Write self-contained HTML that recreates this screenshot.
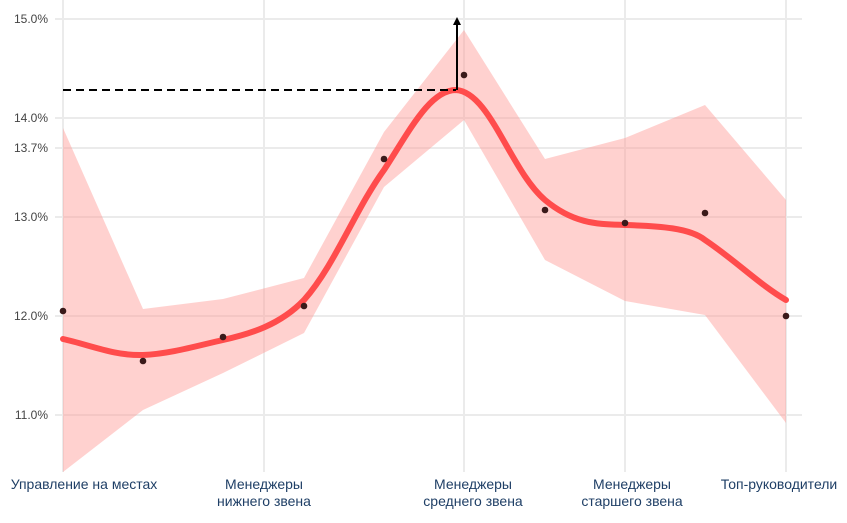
<!DOCTYPE html>
<html><head><meta charset="utf-8"><style>
html,body{margin:0;padding:0;background:#fff;}
svg{display:block;font-family:"Liberation Sans",sans-serif;}
</style></head><body>
<svg width="847" height="523" viewBox="0 0 847 523">
<g stroke="#ebebeb" stroke-width="2">
<line x1="55" y1="19" x2="802" y2="19"/>
<line x1="55" y1="118" x2="802" y2="118"/>
<line x1="55" y1="148" x2="802" y2="148"/>
<line x1="55" y1="217" x2="802" y2="217"/>
<line x1="55" y1="316" x2="802" y2="316"/>
<line x1="55" y1="415" x2="802" y2="415"/>
<line x1="63" y1="0" x2="63" y2="472"/>
<line x1="264" y1="0" x2="264" y2="472"/>
<line x1="464" y1="0" x2="464" y2="472"/>
<line x1="625" y1="0" x2="625" y2="472"/>
<line x1="786" y1="0" x2="786" y2="472"/>
</g>
<g font-size="12" fill="#444" text-anchor="end">
<text x="48" y="23">15.0%</text>
<text x="48" y="122">14.0%</text>
<text x="48" y="152">13.7%</text>
<text x="48" y="221">13.0%</text>
<text x="48" y="320">12.0%</text>
<text x="48" y="419">11.0%</text>
</g>
<polygon fill="#ff9a94" fill-opacity="0.45" points="63,128 143,309 223,299 304,278 384,132 464,30 545,159 625,138 705,105 786,200 786,423 705,315 625,301 545,260 464,120 384,187 304,333 223,373 143,410 63,472"/>
<path fill="none" stroke="#ff4c4c" stroke-width="6" stroke-linecap="round" d="M63,339 C90,345 115,356 143,355 C170,354 200,345 223,340 C250,334 280,325 304,300 C335,265 355,210 384,170 C410,130 430,90 456,90 C490,92 510,170 545,200 C575,225 600,224 625,225 C660,226 690,228 705,240 C735,260 760,285 786,300"/>
<line x1="63" y1="90" x2="456" y2="90" stroke="#000" stroke-width="2" stroke-dasharray="8,5"/>
<line x1="457" y1="90" x2="457" y2="22" stroke="#000" stroke-width="2"/>
<polygon points="457,17 453,25 461,25" fill="#000"/>
<g fill="#3a1a1a">
<circle cx="63" cy="311" r="3.3"/><circle cx="143" cy="361" r="3.3"/><circle cx="223" cy="337" r="3.3"/><circle cx="304" cy="306" r="3.3"/><circle cx="384" cy="159" r="3.3"/><circle cx="464" cy="75" r="3.3"/><circle cx="545" cy="210" r="3.3"/><circle cx="625" cy="223" r="3.3"/><circle cx="705" cy="213" r="3.3"/><circle cx="786" cy="316" r="3.3"/>
</g>
<g font-size="14" fill="#1f3f66" text-anchor="middle">
<text x="84" y="489">Управление на местах</text>
<text x="264" y="489">Менеджеры</text><text x="264" y="506">нижнего звена</text>
<text x="473" y="489">Менеджеры</text><text x="473" y="506">среднего звена</text>
<text x="632" y="489">Менеджеры</text><text x="632" y="506">старшего звена</text>
<text x="779" y="489">Топ-руководители</text>
</g>
</svg>
</body></html>
